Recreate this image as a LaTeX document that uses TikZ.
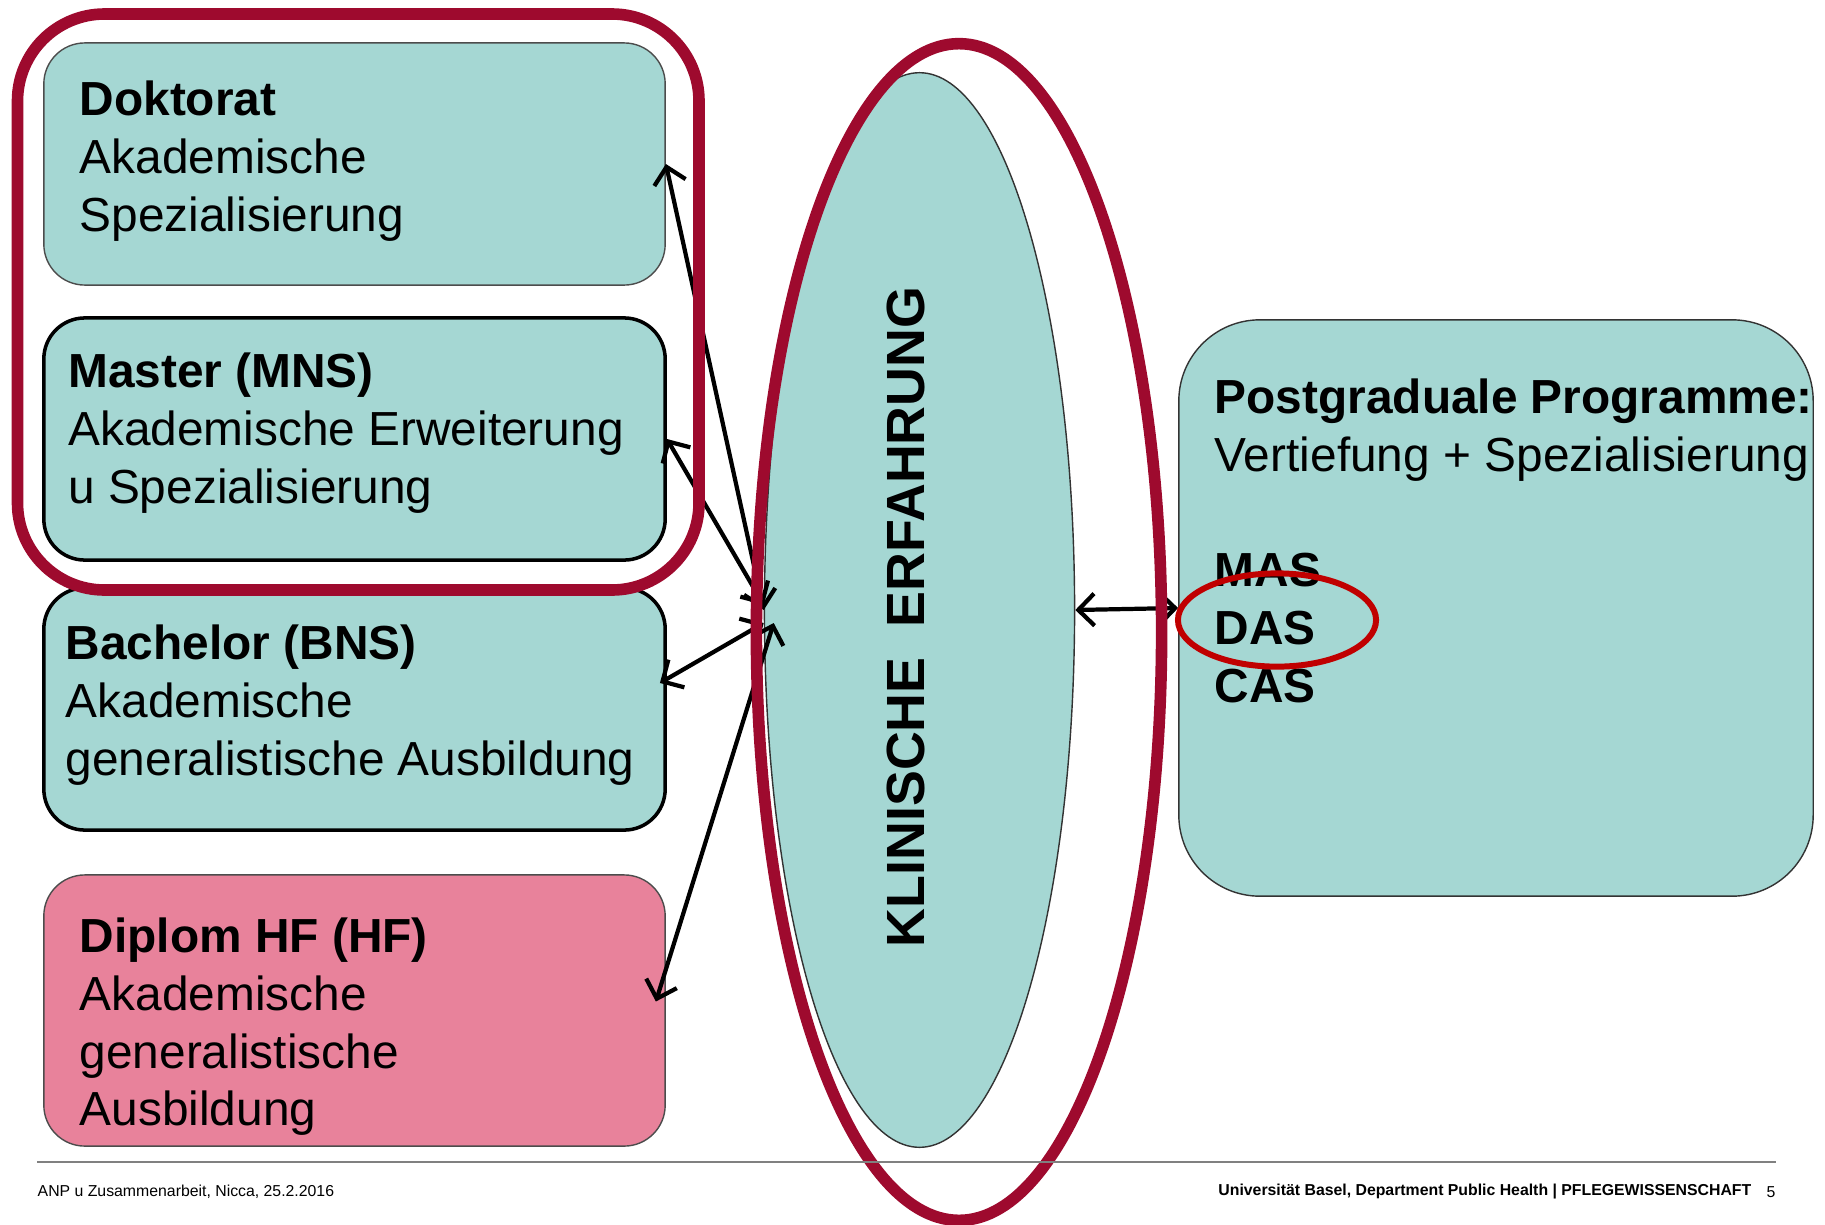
\documentclass[tikz,border=0pt]{standalone}
\usepackage{fontspec}
\setmainfont{Liberation Sans}
\usetikzlibrary{arrows.meta, shapes.geometric}
\definecolor{tealbg}{HTML}{A5D7D3}
\definecolor{pinkbg}{HTML}{E8829B}
\definecolor{ringred}{HTML}{9E0A2E}
\definecolor{dasred}{HTML}{C00000}
\definecolor{rulegray}{HTML}{808080}

\begin{document}
\begin{tikzpicture}[
    x=0.01cm, y=-0.01cm,
    >={Straight Barb[length=1.6mm, width=3.2mm]},
    font=\fontsize{13.6}{16.4}\selectfont,
    degbox/.style={draw=#1, fill=tealbg, rounded corners=0.41cm, minimum width=6.21cm, minimum height=2.42cm, inner sep=0pt},
    txt/.style={anchor=west, align=left, inner sep=0pt},
    link/.style={<->, line width=1.2pt},
    ring/.style={draw=ringred, line width=3.3pt},
    footnote/.style={inner sep=0pt, font=\fontsize{4.5}{5.5}\selectfont}
]
    \useasboundingbox (0,0) rectangle (1825,1224);

    % Degree boxes (left column)
    \node[degbox=black!70, line width=0.4pt] (dok) at (354.5,164) {};
    \node[degbox=black, line width=1pt] (mas) at (354.5,439) {};
    \node[degbox=black, line width=1pt] (bac) at (354.5,709) {};
    \node[degbox=black!70, line width=0.4pt, fill=pinkbg, minimum height=2.71cm] (dip) at (354.5,1010.5) {};

    \node[txt] (doktxt) at (79,161) {\textbf{Doktorat}\\Akademische\\Spezialisierung};
    \node[txt] (mastxt) at (67.5,433) {\textbf{Master (MNS)}\\Akademische Erweiterung\\u Spezialisierung};
    \node[txt] (bactxt) at (65,705) {\textbf{Bachelor (BNS)}\\Akademische\\generalistische Ausbildung};
    \node[txt] (diptxt) at (79,1027) {\textbf{Diplom HF (HF)}\\Akademische\\generalistische\\Ausbildung};

    % Clinical experience (middle)
    \node[ellipse, draw=black!80, fill=tealbg, line width=0.4pt, minimum width=3.1cm, minimum height=10.74cm, inner sep=0pt] (ell) at (919.5,610) {};
    \node[rotate=90, font=\bfseries\fontsize{15.3}{18}\selectfont] (klin) at (905.5,617) {KLINISCHE\ \ ERFAHRUNG};

    % Postgraduate programmes (right)
    \node[draw=black!80, fill=tealbg, line width=0.4pt, rounded corners=0.81cm, minimum width=6.34cm, minimum height=5.76cm, inner sep=0pt] (post) at (1496,608) {};
    \node[txt] (posttxt) at (1214,541) {\textbf{Postgraduale Programme:}\\Vertiefung + Spezialisierung\\[16.4pt]\textbf{MAS}\\\textbf{DAS}\\\textbf{CAS}};

    % Connectors
    \draw[link] (dok.east) -- (ell.west);
    \draw[link] (mas.east) -- ([yshift=0.05cm]ell.west);
    \draw[link] ([xshift=-0.07cm, yshift=0.26cm]bac.east) -- ([yshift=-0.13cm]ell.west);
    \draw[link] ([xshift=-0.1cm, yshift=0.09cm]dip.east) -- ([xshift=0.1cm, yshift=-0.13cm]ell.west);
    \draw[link] (ell.east) -- (post.west);

    % Highlight rings
    \draw[ring, rounded corners=0.87cm] (17.5,14) rectangle (699,590);
    \draw[ring] (959,632) ellipse [x radius=2.025cm, y radius=5.88cm];
    \draw[draw=dasred, line width=1.7pt] (1277,620) ellipse [x radius=0.99cm, y radius=0.466cm];

    % Footer
    \draw[rulegray, line width=0.6pt] (37,1162) -- (1776,1162);
    \node[footnote, anchor=west] (foot) at (37,1192) {ANP u Zusammenarbeit, Nicca, 25.2.2016};
    \node[footnote, anchor=east, font=\bfseries\fontsize{4.5}{5.5}\selectfont] (uni) at (1752,1192) {Universität Basel, Department Public Health | PFLEGEWISSENSCHAFT};
    \node[footnote, anchor=east] (page) at (1776,1192) {5};
\end{tikzpicture}
\end{document}
